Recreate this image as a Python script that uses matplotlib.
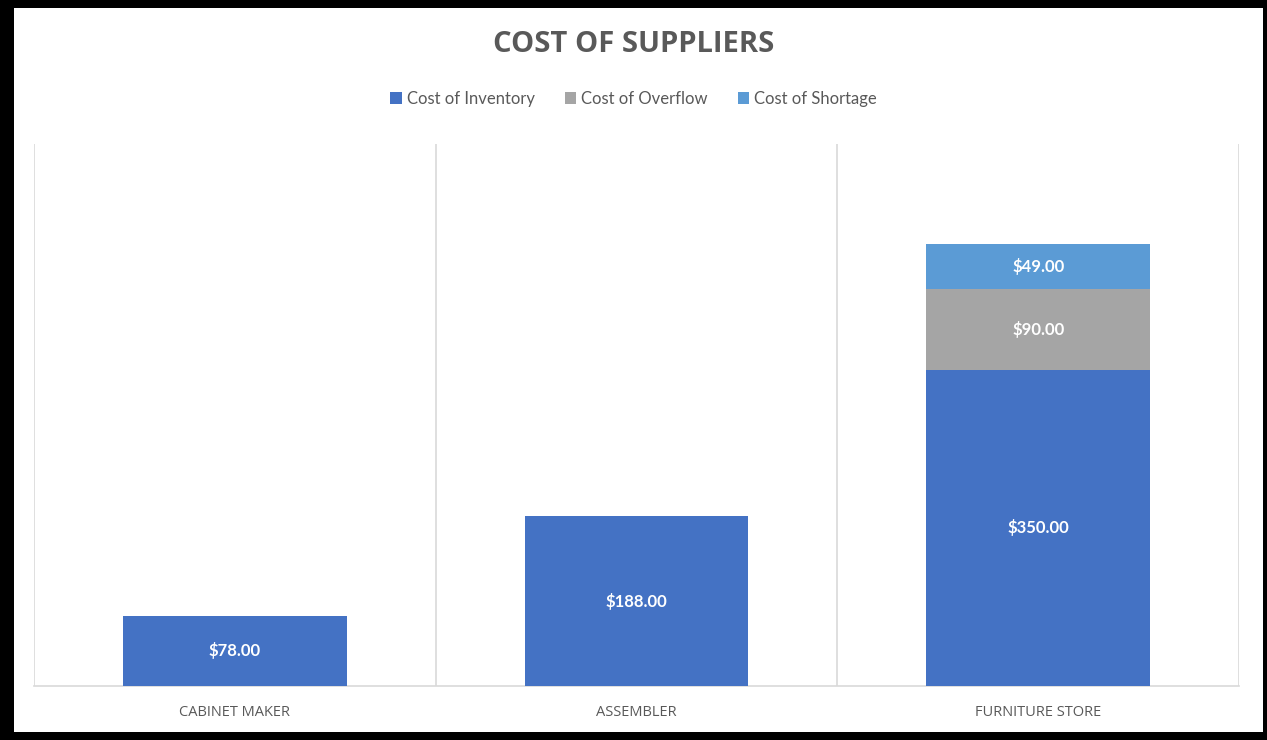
import matplotlib
matplotlib.use("Agg")
import matplotlib.pyplot as plt
from matplotlib.patches import Rectangle

plt.rcParams['font.family'] = ['Lato', 'DejaVu Sans']

categories = ["CABINET MAKER", "ASSEMBLER", "FURNITURE STORE"]
series_names = ["Cost of Inventory", "Cost of Overflow", "Cost of Shortage"]
inventory = [78, 188, 350]
overflow = [0, 0, 90]
shortage = [0, 0, 49]
colors = ["#4472C4", "#A5A5A5", "#5B9BD5"]

fig = plt.figure(figsize=(12.67, 7.40), dpi=100)
fig.patch.set_facecolor("black")
# white chart area inside the black frame
fig.add_artist(Rectangle((0.0110, 0.0108), 0.9858, 0.9784, transform=fig.transFigure,
                         facecolor="white", edgecolor="none", zorder=0))

ax = fig.add_axes([0.02683, 0.07297, 0.95107, 0.73244])
ax.set_facecolor("none")

x = list(range(len(categories)))
width = 0.557
bottoms = [0] * len(categories)
for name, vals, col in zip(series_names, [inventory, overflow, shortage], colors):
    ax.bar(x, vals, width, bottom=bottoms, color=col, label=name, zorder=3)
    for xi, v, b in zip(x, vals, bottoms):
        if v > 0:
            ax.text(xi, b + v / 2, f"${v:,.2f}", ha="center", va="center",
                    color="white", fontsize=12, fontweight="bold", zorder=4)
    bottoms = [b + v for b, v in zip(bottoms, vals)]

ax.set_xlim(-0.5, 2.5)
ax.set_ylim(0, 600)
for gx in [-0.5, 0.5, 1.5, 2.5]:
    ax.axvline(gx, color="#D9D9D9", linewidth=1.2, zorder=1)
for s in ["top", "left", "right"]:
    ax.spines[s].set_visible(False)
ax.spines["bottom"].set_color("#D9D9D9")
ax.spines["bottom"].set_linewidth(1.2)
ax.set_yticks([])
ax.set_xticks(x)
ax.set_xticklabels(categories, color="#595959", fontsize=10.5, family="Open Sans")
ax.tick_params(axis="x", length=0, pad=14)

fig.text(0.5, 0.940, "COST OF SUPPLIERS", ha="center", va="center",
         fontsize=21, fontweight="bold", color="#595959", family="Open Sans")

fig.legend(loc="center", bbox_to_anchor=(0.5, 0.866), ncol=3, frameon=False,
           handlelength=0.7, handleheight=0.7, handletextpad=0.3, columnspacing=1.8,
           fontsize=12, labelcolor="#595959")

fig.savefig("out.png", dpi=100, facecolor=fig.get_facecolor())
